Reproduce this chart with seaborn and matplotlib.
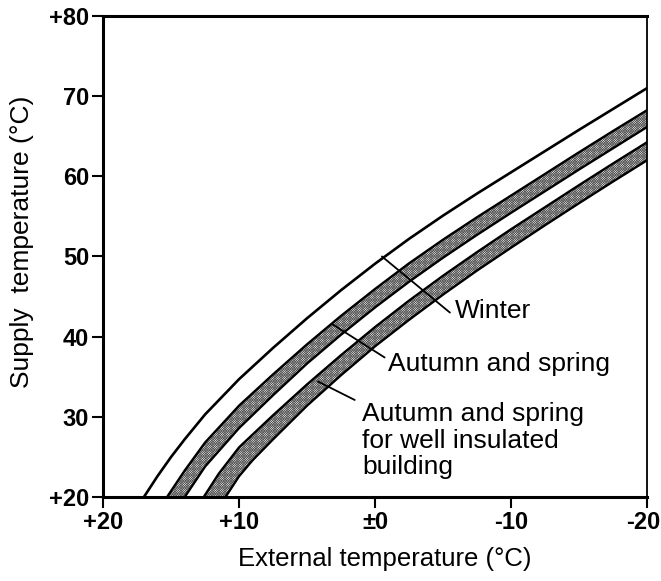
import numpy as np
import pandas as pd
import matplotlib
matplotlib.use("Agg")
import matplotlib.pyplot as plt
import matplotlib.transforms as mtransforms
import seaborn as sns

# ---- data ----
winter_x = [17, 16, 15, 14, 12.5, 10, 7.5, 5, 2.5, 0, -2.5, -5, -7.5, -10, -12.5, -15, -17.5, -20]
winter_y = [20, 22.6, 25.0, 27.2, 30.3, 34.7, 38.6, 42.3, 45.8, 49.1, 52.2, 55.1, 57.85, 60.5, 63.15, 65.8, 68.4, 71.0]

autumn_up_x = [15.3, 14, 12.5, 10, 7.5, 5, 2.5, 0, -2.5, -5, -7.5, -10, -12.5, -15, -17.5, -20]
autumn_up_y = [20, 23.3, 26.8, 31.4, 35.3, 39.05, 42.6, 45.95, 49.15, 52.1, 54.9, 57.6, 60.3, 63.0, 65.65, 68.25]
autumn_lo_x = [14.0, 12.5, 10, 7.5, 5, 2.5, 0, -2.5, -5, -7.5, -10, -12.5, -15, -17.5, -20]
autumn_lo_y = [20, 23.8, 28.6, 32.7, 36.65, 40.25, 43.65, 46.85, 49.85, 52.7, 55.45, 58.15, 60.85, 63.5, 66.15]

insul_up_x = [12.6, 11.5, 10, 7.5, 5, 2.5, 0, -2.5, -5, -7.5, -10, -12.5, -15, -17.5, -20]
insul_up_y = [20, 22.9, 26.2, 30.2, 34.05, 37.7, 41.2, 44.5, 47.6, 50.55, 53.4, 56.15, 58.9, 61.6, 64.25]
insul_lo_x = [11.0, 10, 9, 7.5, 5, 2.5, 0, -2.5, -5, -7.5, -10, -12.5, -15, -17.5, -20]
insul_lo_y = [20, 22.6, 24.6, 27.2, 31.4, 35.2, 38.8, 42.1, 45.25, 48.25, 51.1, 53.9, 56.65, 59.35, 62.0]

x_ticks = [20, 10, 0, -10, -20]
x_ticklabels = ["+20", "+10", "±0", "-10", "-20"]
y_ticks = [20, 30, 40, 50, 60, 70, 80]
y_ticklabels = ["+20", "30", "40", "50", "60", "70", "+80"]

labels = ["Winter", "Autumn and spring", "Autumn and spring\nfor well insulated\nbuilding"]
label_tips = [(-0.5, 50.0), (3.1, 41.5), (4.2, 34.4)]
label_ends = [(-5.5, 43.0), (-0.7, 37.4), (1.5, 32.1)]
label_pos = [(-5.9, 43.2), (-0.95, 36.6), (0.95, 27.0)]

# ---- figure ----
sns.set_style("ticks")
plt.rcParams['font.family'] = ['Liberation Sans', 'DejaVu Sans']
plt.rcParams['hatch.linewidth'] = 0.5
plt.rcParams['text.color'] = 'black'
plt.rcParams['axes.labelcolor'] = 'black'
plt.rcParams['xtick.color'] = 'black'
plt.rcParams['ytick.color'] = 'black'
plt.rcParams['axes.edgecolor'] = 'black'
fig = plt.figure(figsize=(6.61, 5.81), dpi=100)
ax = fig.add_axes([0.156, 0.1446, 0.823, 0.828])

def band(ux, uy, lx, ly):
    px = list(ux) + list(lx)[::-1]
    py = list(uy) + list(ly)[::-1]
    ax.fill(px, py, facecolor="#f2f2f2", edgecolor="#555555", linewidth=0,
            hatch="x" * 14, zorder=2)
    for xx, yy in ((ux, uy), (lx, ly)):
        sns.lineplot(x=xx, y=yy, ax=ax, color="black", lw=1.7, sort=False, zorder=3)

band(autumn_up_x, autumn_up_y, autumn_lo_x, autumn_lo_y)
band(insul_up_x, insul_up_y, insul_lo_x, insul_lo_y)
sns.lineplot(x=winter_x, y=winter_y, ax=ax, color="black", lw=1.9, sort=False, zorder=3)

for txt, tip, end, pos in zip(labels, label_tips, label_ends, label_pos):
    ax.plot([tip[0], end[0]], [tip[1], end[1]], color="black", lw=1.3, zorder=4)
    ax.text(pos[0], pos[1], txt, ha="left", va="center", fontsize=19,
            linespacing=1.13, color="black")

ax.set_xlim(20, -20)
ax.set_ylim(20, 80)
ax.set_xticks(x_ticks)
ax.set_xticklabels(x_ticklabels)
ax.set_yticks(y_ticks)
ax.set_yticklabels(y_ticklabels)
for lab in ax.get_xticklabels() + ax.get_yticklabels():
    lab.set_fontsize(17)
    lab.set_fontweight("bold")
    lab.set_color("black")
ax.tick_params(axis="both", direction="out", length=8, width=1.5, color="black",
               labelcolor="black", pad=2)
# keep the last x label inside the canvas
last = ax.get_xticklabels()[-1]
last.set_transform(last.get_transform() + mtransforms.ScaledTranslation(-4 / 100, 0, fig.dpi_scale_trans))

ax.set_xlabel("External temperature (°C)", fontsize=18.5, color="black")
ax.set_ylabel("Supply  temperature (°C)", fontsize=19, color="black")
ax.xaxis.set_label_coords(0.518, -0.105)
ax.yaxis.set_label_coords(-0.149, 0.53)
ax.yaxis.label.set_va("center")
for side in ["left", "bottom", "top"]:
    ax.spines[side].set_linewidth(2.2)
    ax.spines[side].set_color("black")
ax.spines["right"].set_linewidth(1.3)
ax.spines["right"].set_color("black")
ax.spines["top"].set_visible(True)
ax.spines["right"].set_visible(True)
ax.grid(False)
if ax.get_legend():
    ax.get_legend().remove()

fig.savefig("out.png", dpi=100)
